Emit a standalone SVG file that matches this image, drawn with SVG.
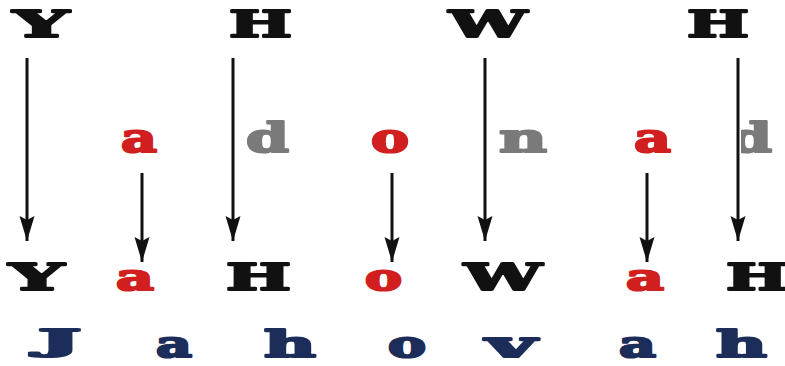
<svg xmlns="http://www.w3.org/2000/svg" width="785" height="366" viewBox="0 0 785 366">
<style>
text{font-family:"DejaVu Serif","Liberation Serif",serif;font-weight:bold;stroke-width:2.2;stroke-linejoin:round;}
.k{fill:#111;stroke:#111;font-size:37px;}
.r{fill:#d11f1f;stroke:#d11f1f;font-size:41px;}
.g{fill:#7a7a7a;stroke:#7a7a7a;font-size:41px;}
.r2{fill:#d11f1f;stroke:#d11f1f;font-size:37px;}
.n{fill:#1c2d5a;stroke:#1c2d5a;font-size:37px;}
.c line{stroke:#111;stroke-width:3;marker-end:url(#ah);}
</style>
<defs>
<marker id="ah" markerUnits="userSpaceOnUse" markerWidth="26" markerHeight="16" refX="25" refY="7.5" orient="auto">
<path d="M0,0 L25,7.5 L0,15 L4,7.5 z" fill="#111"/>
</marker>
<clipPath id="clipd"><rect x="741" y="100" width="44" height="70"/></clipPath>
</defs>
<rect width="785" height="366" fill="#fff"/>
<g id="top">
<text id="t1" class="k" x="13" y="37" textLength="56" lengthAdjust="spacingAndGlyphs">Y</text>
<text id="t2" class="k" x="229" y="37" textLength="63" lengthAdjust="spacingAndGlyphs">H</text>
<text id="t3" class="k" x="449" y="37" textLength="78" lengthAdjust="spacingAndGlyphs">W</text>
<text id="t4" class="k" x="687" y="37" textLength="62" lengthAdjust="spacingAndGlyphs">H</text>
</g>
<g id="mid">
<text id="m1" class="r" x="121" y="152" textLength="36" lengthAdjust="spacingAndGlyphs">a</text>
<text id="m2" class="g" x="246" y="152" textLength="43" lengthAdjust="spacingAndGlyphs">d</text>
<text id="m3" class="r" x="371" y="152" textLength="38" lengthAdjust="spacingAndGlyphs">o</text>
<text id="m4" class="g" x="499" y="152" textLength="48" lengthAdjust="spacingAndGlyphs">n</text>
<text id="m5" class="r" x="634" y="152" textLength="37" lengthAdjust="spacingAndGlyphs">a</text>
<text id="m6" class="g" x="729" y="152" textLength="43" lengthAdjust="spacingAndGlyphs" clip-path="url(#clipd)">d</text>
</g>
<g id="row1">
<text id="b1" class="k" x="9" y="290" textLength="55" lengthAdjust="spacingAndGlyphs">Y</text>
<text id="b2" class="r2" x="116" y="290" textLength="38" lengthAdjust="spacingAndGlyphs">a</text>
<text id="b3" class="k" x="226" y="290" textLength="65" lengthAdjust="spacingAndGlyphs">H</text>
<text id="b4" class="r2" x="365" y="290" textLength="37" lengthAdjust="spacingAndGlyphs">o</text>
<text id="b5" class="k" x="464" y="290" textLength="78" lengthAdjust="spacingAndGlyphs">W</text>
<text id="b6" class="r2" x="626" y="290" textLength="38" lengthAdjust="spacingAndGlyphs">a</text>
<text id="b7" class="k" x="726" y="290" textLength="62" lengthAdjust="spacingAndGlyphs">H</text>
</g>
<g id="row2">
<text id="j1" class="n" x="38" y="351" textLength="43" lengthAdjust="spacingAndGlyphs" style="font-size:29px">J</text>
<text id="j2" class="n" x="156" y="357" textLength="36" lengthAdjust="spacingAndGlyphs">a</text>
<text id="j3" class="n" x="264" y="357" textLength="52" lengthAdjust="spacingAndGlyphs">h</text>
<text id="j4" class="n" x="388" y="357" textLength="38" lengthAdjust="spacingAndGlyphs">o</text>
<text id="j5" class="n" x="486" y="357" textLength="50" lengthAdjust="spacingAndGlyphs">v</text>
<text id="j6" class="n" x="619" y="357" textLength="37" lengthAdjust="spacingAndGlyphs">a</text>
<text id="j7" class="n" x="716" y="357" textLength="51" lengthAdjust="spacingAndGlyphs">h</text>
</g>
<g id="connectors" class="c">
<line x1="27" y1="58" x2="27" y2="241"/>
<line x1="233" y1="58" x2="233" y2="241"/>
<line x1="485" y1="58" x2="485" y2="241"/>
<line x1="738" y1="58" x2="738" y2="241"/>
<line x1="142" y1="173" x2="142" y2="262"/>
<line x1="392" y1="173" x2="392" y2="262"/>
<line x1="647" y1="173" x2="647" y2="262"/>
</g>
</svg>
